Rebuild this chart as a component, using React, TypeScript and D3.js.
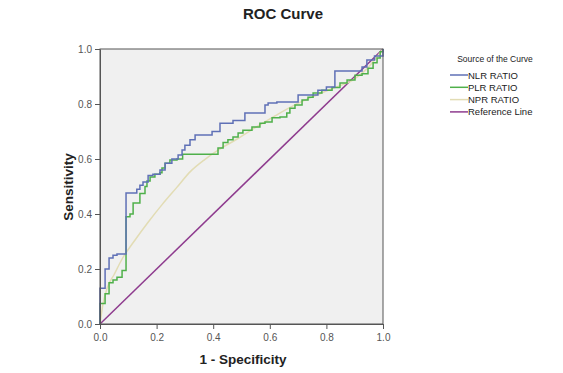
import React, { useEffect, useRef } from 'react'
import * as d3 from 'd3'

// ROC vertices (1 - specificity, sensitivity)
const nlrFpr = [0, 0, 0.018, 0.032, 0.046, 0.06, 0.092, 0.13, 0.141, 0.152, 0.17, 0.187, 0.212, 0.23, 0.254, 0.276, 0.29, 0.3, 0.318, 0.336, 0.396, 0.424, 0.47, 0.512, 0.583, 0.594, 0.625, 0.7, 0.77, 0.8, 0.83, 0.926, 0.943, 0.97, 1]
const nlrTpr = [0, 0.13, 0.2, 0.24, 0.25, 0.255, 0.476, 0.49, 0.505, 0.516, 0.54, 0.545, 0.56, 0.585, 0.6, 0.615, 0.633, 0.65, 0.67, 0.687, 0.7, 0.73, 0.74, 0.767, 0.796, 0.804, 0.807, 0.833, 0.85, 0.862, 0.92, 0.935, 0.96, 0.975, 1]

const plrFpr = [0, 0, 0.018, 0.032, 0.046, 0.06, 0.078, 0.092, 0.106, 0.117, 0.141, 0.159, 0.166, 0.177, 0.194, 0.212, 0.219, 0.23, 0.247, 0.272, 0.292, 0.417, 0.435, 0.452, 0.47, 0.488, 0.505, 0.537, 0.565, 0.583, 0.608, 0.636, 0.66, 0.671, 0.689, 0.714, 0.735, 0.753, 0.784, 0.82, 0.848, 0.873, 0.901, 0.926, 0.947, 0.965, 0.979, 0.99, 1]
const plrTpr = [0, 0.075, 0.11, 0.15, 0.16, 0.17, 0.195, 0.39, 0.4, 0.44, 0.475, 0.5, 0.52, 0.535, 0.545, 0.55, 0.567, 0.585, 0.596, 0.6, 0.617, 0.64, 0.66, 0.67, 0.68, 0.695, 0.705, 0.716, 0.73, 0.735, 0.75, 0.753, 0.767, 0.785, 0.796, 0.815, 0.825, 0.84, 0.85, 0.86, 0.876, 0.887, 0.905, 0.91, 0.93, 0.95, 0.967, 0.99, 1]

const nprFpr = [0, 0.01, 0.025, 0.05, 0.08, 0.12, 0.17, 0.22, 0.27, 0.32, 0.37, 0.42, 0.48, 0.55, 0.62, 0.69, 0.76, 0.83, 0.89, 0.94, 1]
const nprTpr = [0, 0.07, 0.13, 0.18, 0.24, 0.3, 0.37, 0.435, 0.495, 0.555, 0.598, 0.634, 0.67, 0.715, 0.758, 0.798, 0.83, 0.86, 0.885, 0.925, 1]

const refFpr = [0, 1]
const refTpr = [0, 1]

const ticks = [0, 0.2, 0.4, 0.6, 0.8, 1.0]
const legendNames = ['NLR RATIO', 'PLR RATIO', 'NPR RATIO', 'Reference Line']
const colors = ['#5f70b6', '#4fb04a', '#e2dcb4', '#8e3b8e']

function drawRoc(el: SVGSVGElement) {
    const svg = d3.select(el)
    svg.selectAll('*').remove()

    const left = 100, right = 383, top = 49, bottom = 324
    const x = d3.scaleLinear().domain([0, 1]).range([left, right])
    const y = d3.scaleLinear().domain([0, 1]).range([bottom, top])

    svg.append('rect').attr('width', 563).attr('height', 373).attr('fill', '#fff')
    svg.append('rect')
        .attr('x', left).attr('y', top)
        .attr('width', right - left).attr('height', bottom - top)
        .attr('fill', '#f0f0f0')

    const series = [
        { xs: nlrFpr, ys: nlrTpr, curve: d3.curveStepAfter },
        { xs: plrFpr, ys: plrTpr, curve: d3.curveStepAfter },
        { xs: nprFpr, ys: nprTpr, curve: d3.curveMonotoneX },
        { xs: refFpr, ys: refTpr, curve: d3.curveLinear },
    ]
    // draw order: reference, npr, plr, nlr
    const order = [3, 2, 1, 0]
    order.forEach(i => {
        const s = series[i]
        const pts: [number, number][] = s.xs.map((v, j) => [v, s.ys[j]])
        const line = d3.line<[number, number]>()
            .x(d => x(d[0]))
            .y(d => y(d[1]))
            .curve(s.curve)
        svg.append('path')
            .attr('d', line(pts))
            .attr('fill', 'none')
            .attr('stroke', colors[i])
            .attr('stroke-width', 1.5)
    })

    // frame
    svg.append('rect')
        .attr('x', left).attr('y', top)
        .attr('width', right - left).attr('height', bottom - top)
        .attr('fill', 'none')
        .attr('stroke', '#555')
        .attr('stroke-width', 1)

    const xAxis = d3.axisBottom(x).tickValues(ticks).tickFormat(d3.format('.1f')).tickSize(5).tickSizeOuter(0)
    const gx = svg.append('g').attr('transform', `translate(0,${bottom})`).call(xAxis)
    const yAxis = d3.axisLeft(y).tickValues(ticks).tickFormat(d3.format('.1f')).tickSize(5).tickSizeOuter(0)
    const gy = svg.append('g').attr('transform', `translate(${left},0)`).call(yAxis)
    ;[gx, gy].forEach(g => {
        g.select('.domain').attr('stroke', '#555')
        g.selectAll('line').attr('stroke', '#555')
        g.selectAll('text')
            .attr('font-family', 'Arial, "Liberation Sans", sans-serif')
            .attr('font-size', 10)
            .attr('fill', '#555')
    })
    gx.selectAll('text').attr('dy', '0.9em')

    svg.append('text')
        .attr('x', 283).attr('y', 19)
        .attr('text-anchor', 'middle')
        .attr('font-family', 'Arial, "Liberation Sans", sans-serif')
        .attr('font-weight', 'bold')
        .attr('font-size', 15)
        .attr('fill', '#222')
        .text('ROC Curve')

    svg.append('text')
        .attr('x', 243).attr('y', 364)
        .attr('text-anchor', 'middle')
        .attr('font-family', 'Arial, "Liberation Sans", sans-serif')
        .attr('font-weight', 'bold')
        .attr('font-size', 13.5)
        .attr('fill', '#222')
        .text('1 - Specificity')

    svg.append('text')
        .attr('transform', 'translate(73,187) rotate(-90)')
        .attr('text-anchor', 'middle')
        .attr('font-family', 'Arial, "Liberation Sans", sans-serif')
        .attr('font-weight', 'bold')
        .attr('font-size', 13.5)
        .attr('fill', '#222')
        .text('Sensitivity')

    // legend
    const lg = svg.append('g')
        .attr('font-family', 'Arial, "Liberation Sans", sans-serif')
        .attr('fill', '#222')
    lg.append('text')
        .attr('x', 495).attr('y', 62)
        .attr('text-anchor', 'middle')
        .attr('font-size', 8.5)
        .text('Source of the Curve')
    legendNames.forEach((name, i) => {
        const ly = 75 + i * 12.3
        lg.append('line')
            .attr('x1', 450).attr('x2', 468)
            .attr('y1', ly).attr('y2', ly)
            .attr('stroke', colors[i])
            .attr('stroke-width', 1.5)
        lg.append('text')
            .attr('x', 468).attr('y', ly + 3.5)
            .attr('font-size', 9.5)
            .text(name)
    })
}

const App = () => {
    const ref = useRef<SVGSVGElement>(null)
    useEffect(() => {
        if (ref.current) drawRoc(ref.current)
    }, [])
    return (
        <svg ref={ref} width={563} height={373}
            style={{ position: 'absolute', left: 0, top: 0 }} />
    )
}

export default App
